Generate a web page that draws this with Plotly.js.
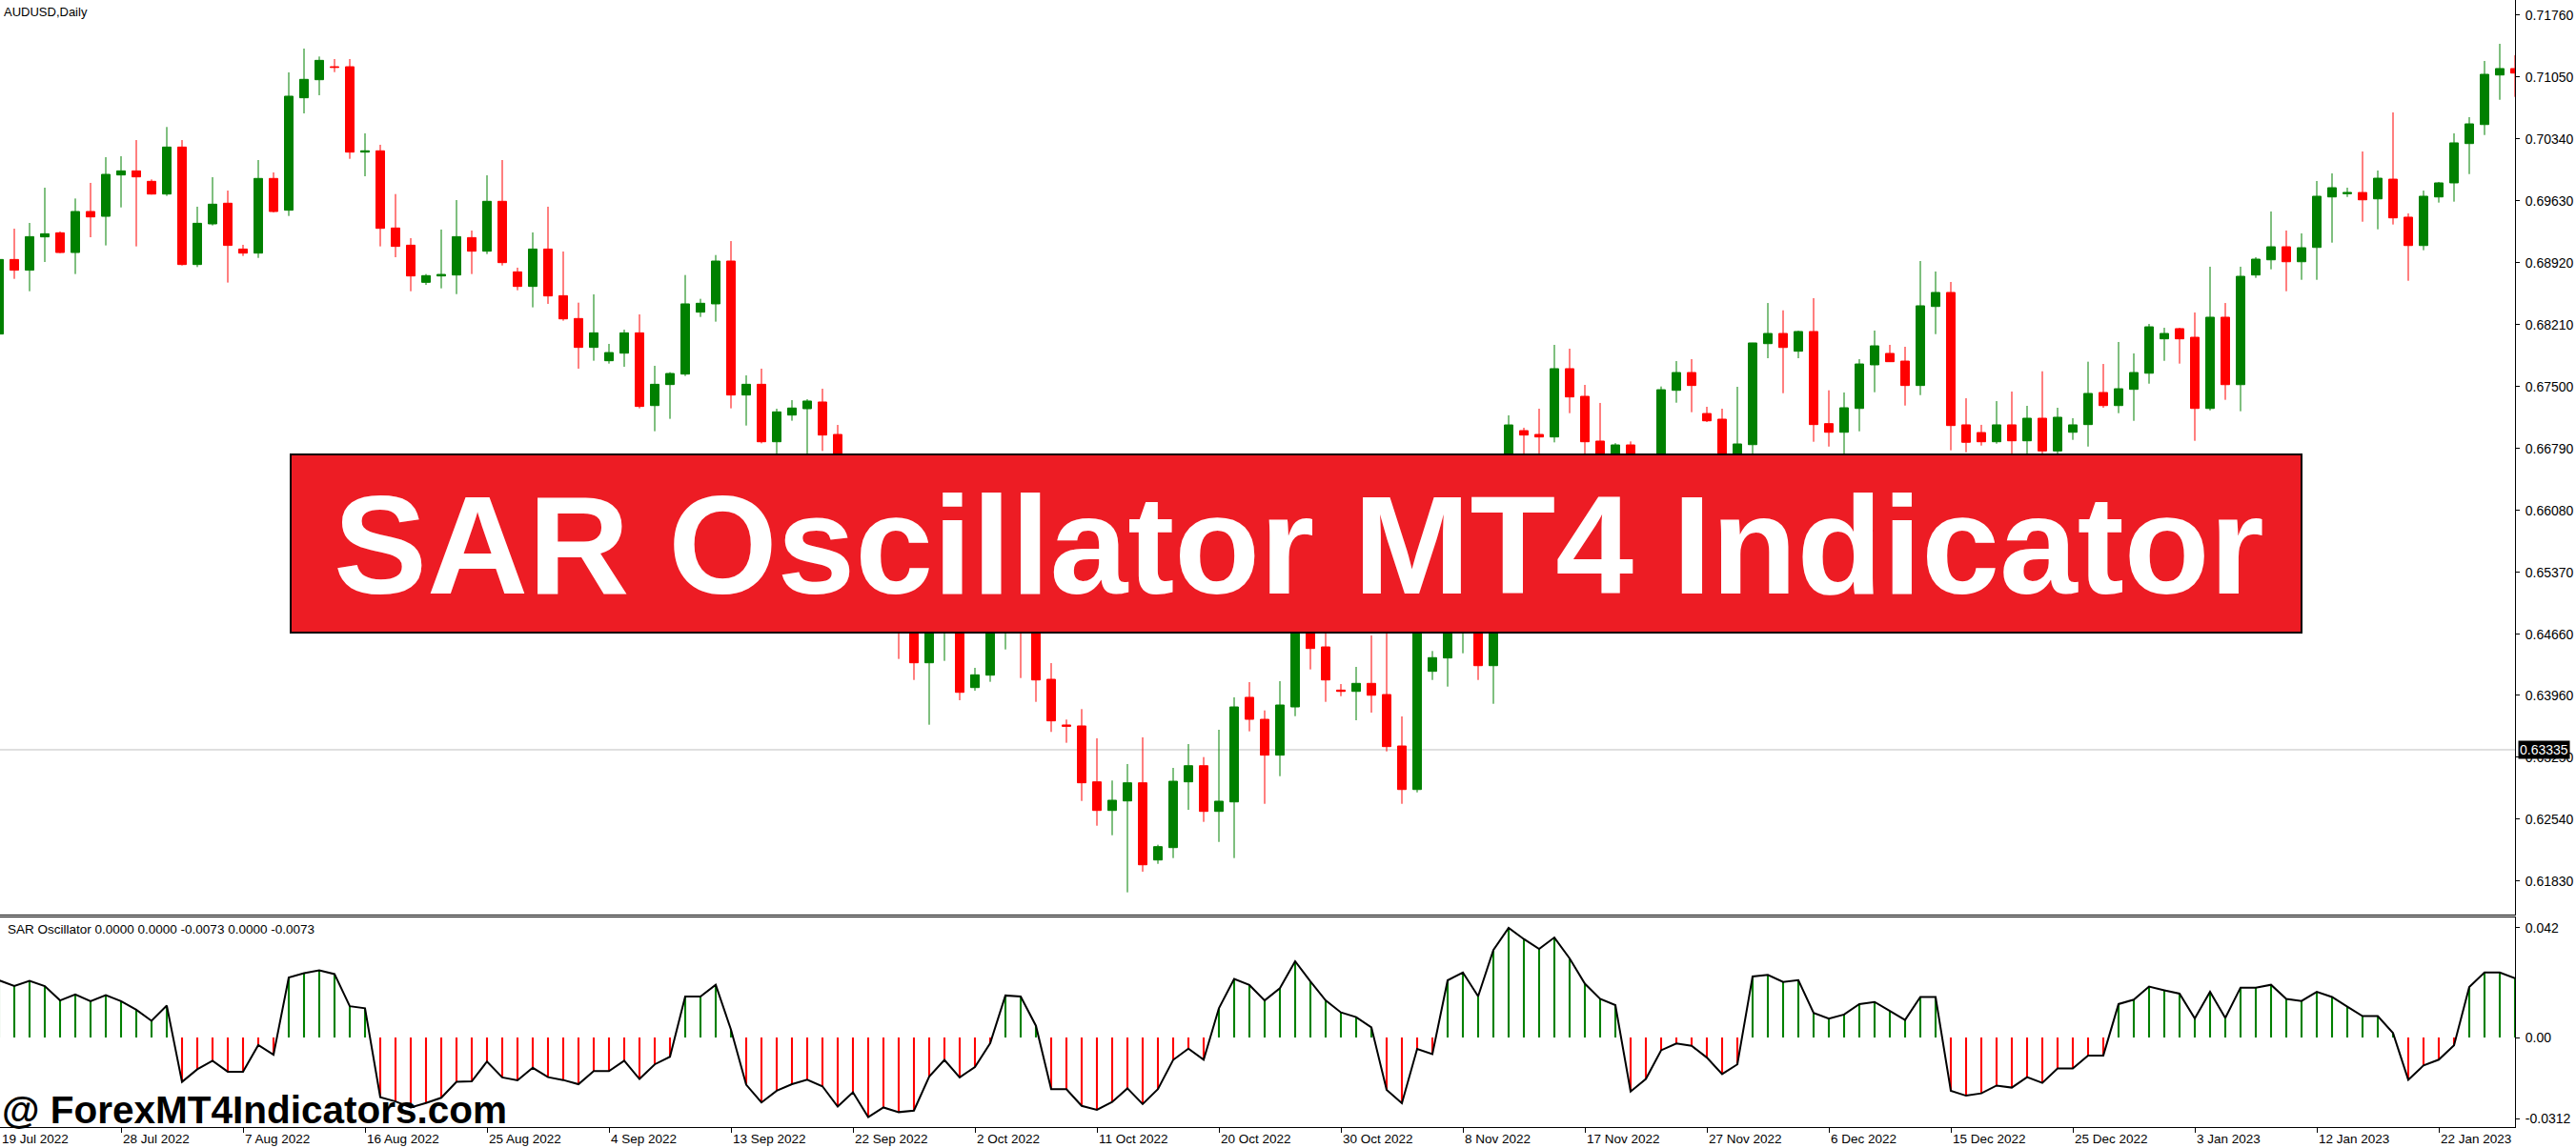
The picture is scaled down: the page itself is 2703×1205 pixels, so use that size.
<!DOCTYPE html>
<html><head><meta charset="utf-8">
<script src="https://cdn.plot.ly/plotly-3.0.1.min.js"></script>
<style>html,body{margin:0;padding:0;background:#fff;overflow:hidden}#chart{width:2703px;height:1205px}</style>
</head><body><div id="chart"></div>
<script>
const symbolTitle = 'AUDUSD,Daily';
const openP = [0.68101,0.68956,0.68833,0.69215,0.69262,0.69036,0.69506,0.69451,0.69925,0.69972,
0.69852,0.69706,0.70245,0.68898,0.69364,0.69601,0.69076,0.69029,0.69885,0.69521,
0.70810,0.71017,0.71166,0.71166,0.70187,0.70202,0.69317,0.69120,0.68694,0.68767,
0.68778,0.69207,0.69051,0.69623,0.68814,0.68647,0.69076,0.68541,0.68279,0.67948,
0.67795,0.67882,0.68115,0.67281,0.67522,0.67642,0.68352,0.68447,0.68938,0.67402,
0.67525,0.66866,0.67172,0.67245,0.67322,0.66950,0.66400,0.66100,0.66380,0.65850,
0.64900,0.64332,0.64850,0.64900,0.64048,0.64190,0.64700,0.64900,0.64750,0.64143,
0.63619,0.63608,0.62967,0.62639,0.62748,0.62956,0.62071,0.62213,0.62967,0.63152,
0.62628,0.62737,0.63936,0.63684,0.63273,0.63826,0.64800,0.64514,0.64019,0.64004,
0.64096,0.63968,0.63378,0.62879,0.64234,0.64387,0.64750,0.64900,0.64299,0.65600,
0.66994,0.66950,0.66921,0.67704,0.67387,0.66874,0.66450,0.66830,0.66500,0.66600,
0.67456,0.67660,0.67190,0.67125,0.66600,0.66833,0.67991,0.68108,0.67904,0.68130,
0.67074,0.66975,0.67248,0.67748,0.67879,0.67791,0.67511,0.68417,0.68578,0.67060,
0.66972,0.66866,0.67060,0.66877,0.67136,0.66761,0.66975,0.67063,0.67431,0.67281,
0.67467,0.67652,0.68046,0.68163,0.68064,0.67248,0.68294,0.67521,0.68778,0.68952,
0.69102,0.68930,0.69094,0.69673,0.69710,0.69724,0.69651,0.69877,0.69441,0.69116,
0.69673,0.69834,0.70285,0.70503,0.71071,0.71145];
const highP = [0.68970,0.69309,0.69375,0.69779,0.69277,0.69655,0.69834,0.70129,0.70140,0.70325,
0.69874,0.70475,0.70325,0.69561,0.69899,0.69746,0.69124,0.70096,0.69954,0.71101,
0.71374,0.71283,0.71254,0.71254,0.70402,0.70271,0.69706,0.69200,0.68789,0.69299,
0.69637,0.69288,0.69921,0.70096,0.68862,0.69266,0.69561,0.69047,0.68461,0.68556,
0.67988,0.68152,0.68326,0.67737,0.67664,0.68778,0.68505,0.69007,0.69167,0.67627,
0.67704,0.67245,0.67343,0.67354,0.67474,0.67059,0.66680,0.66550,0.66500,0.66000,
0.65200,0.65050,0.65150,0.65050,0.64274,0.64900,0.65000,0.65050,0.64900,0.64328,
0.63681,0.63801,0.63466,0.62982,0.63171,0.63477,0.62246,0.63127,0.63400,0.63251,
0.63564,0.63936,0.64110,0.63786,0.64121,0.64950,0.65000,0.64681,0.64088,0.64285,
0.64645,0.64681,0.63717,0.64850,0.64467,0.65000,0.65100,0.65050,0.65600,0.67169,
0.67027,0.67245,0.67977,0.67933,0.67518,0.67311,0.66850,0.66870,0.66700,0.67500,
0.67791,0.67813,0.67267,0.67245,0.67496,0.68000,0.68457,0.68373,0.68140,0.68512,
0.67456,0.67431,0.67813,0.68141,0.67977,0.67955,0.68938,0.68818,0.68698,0.67365,
0.67060,0.67332,0.67442,0.67278,0.67674,0.67256,0.67136,0.67784,0.67758,0.68010,
0.67879,0.68217,0.68173,0.68173,0.68348,0.68873,0.68457,0.68873,0.68982,0.69506,
0.69288,0.69255,0.69856,0.69943,0.69779,0.70194,0.69976,0.70642,0.69484,0.69746,
0.69845,0.70402,0.70588,0.71232,0.71429,0.71297];
const lowP = [0.68053,0.68734,0.68592,0.68927,0.69029,0.68789,0.69211,0.69117,0.69553,0.69106,
0.69700,0.69685,0.68887,0.68869,0.69346,0.68691,0.68996,0.68974,0.69495,0.69455,
0.70631,0.70839,0.71104,0.70110,0.69910,0.69106,0.68982,0.68592,0.68665,0.68625,
0.68559,0.68789,0.69018,0.68887,0.68603,0.68407,0.68447,0.68254,0.67704,0.67795,
0.67762,0.67726,0.67249,0.66987,0.67129,0.67620,0.68297,0.68243,0.67249,0.67052,
0.66848,0.66579,0.67107,0.66500,0.66761,0.66300,0.65980,0.65900,0.65700,0.64376,
0.64135,0.63622,0.64354,0.63903,0.64012,0.64114,0.64485,0.64157,0.63884,0.63539,
0.63415,0.62748,0.62464,0.62355,0.61700,0.61937,0.62027,0.62093,0.62646,0.62508,
0.62278,0.62093,0.63546,0.62715,0.63032,0.63720,0.64256,0.63884,0.63949,0.63673,
0.63761,0.63316,0.62715,0.62846,0.64135,0.64059,0.64441,0.64135,0.63862,0.65450,
0.66600,0.66650,0.66859,0.67194,0.66600,0.66250,0.66350,0.66400,0.66400,0.66500,
0.67314,0.67205,0.67092,0.66550,0.66500,0.66724,0.67824,0.67423,0.67824,0.66866,
0.66811,0.66650,0.66986,0.67434,0.67780,0.67281,0.67401,0.68100,0.66768,0.66746,
0.66822,0.66844,0.66700,0.66720,0.66650,0.66680,0.66888,0.66811,0.67256,0.67194,
0.67106,0.67532,0.67794,0.67762,0.66877,0.67226,0.67347,0.67216,0.68745,0.68843,
0.68592,0.68723,0.68723,0.69149,0.69673,0.69389,0.69302,0.69357,0.68712,0.69062,
0.69608,0.69619,0.69935,0.70383,0.70787,0.70820];
const closeP = [0.68956,0.68833,0.69218,0.69251,0.69036,0.69506,0.69444,0.69932,0.69972,0.69903,
0.69706,0.70245,0.68898,0.69371,0.69590,0.69117,0.69029,0.69885,0.69506,0.70828,
0.71021,0.71239,0.71159,0.70187,0.70202,0.69313,0.69106,0.68767,0.68771,0.68785,
0.69218,0.69051,0.69623,0.68920,0.68647,0.69076,0.68538,0.68275,0.67948,0.68115,
0.67889,0.68115,0.67271,0.67525,0.67649,0.68447,0.68454,0.68938,0.67402,0.67525,
0.66866,0.67209,0.67253,0.67333,0.66943,0.66400,0.66100,0.66380,0.65850,0.64900,
0.64332,0.64900,0.65000,0.63993,0.64194,0.64750,0.64850,0.64720,0.64135,0.63666,
0.63604,0.62956,0.62639,0.62756,0.62956,0.62016,0.62224,0.62974,0.63152,0.62628,
0.62745,0.63826,0.63684,0.63273,0.63848,0.64850,0.64496,0.64135,0.64004,0.64096,
0.63960,0.63371,0.62879,0.64750,0.64391,0.64850,0.64950,0.64299,0.65500,0.67059,
0.66943,0.66921,0.67704,0.67380,0.66866,0.66400,0.66830,0.66500,0.66650,0.67463,
0.67660,0.67511,0.67106,0.66650,0.66841,0.67999,0.68108,0.67947,0.68130,0.67063,
0.66975,0.67256,0.67758,0.67966,0.67784,0.67511,0.68425,0.68578,0.67052,0.66860,
0.66866,0.67060,0.66877,0.67136,0.66761,0.67147,0.67060,0.67420,0.67281,0.67474,
0.67660,0.68184,0.68108,0.68046,0.67248,0.68294,0.67521,0.68763,0.68960,0.69102,
0.68930,0.69091,0.69681,0.69779,0.69724,0.69640,0.69888,0.69433,0.69116,0.69681,
0.69834,0.70293,0.70511,0.71079,0.71145,0.71093];
const sarOsc = [0.0219,0.0197,0.0217,0.0197,0.0142,0.0165,0.0139,0.0162,0.0139,0.0106,
0.0064,0.0122,-0.0170,-0.0122,-0.0089,-0.0131,-0.0131,-0.0029,-0.0066,0.0230,
0.0246,0.0257,0.0243,0.0120,0.0112,-0.0229,-0.0245,-0.0268,-0.0251,-0.0231,
-0.0170,-0.0168,-0.0092,-0.0153,-0.0164,-0.0116,-0.0152,-0.0163,-0.0179,-0.0129,
-0.0129,-0.0089,-0.0159,-0.0103,-0.0074,0.0157,0.0157,0.0202,0.0030,-0.0181,
-0.0249,-0.0204,-0.0179,-0.0162,-0.0187,-0.0265,-0.0210,-0.0305,-0.0268,-0.0286,
-0.0280,-0.0150,-0.0086,-0.0153,-0.0113,-0.0022,0.0161,0.0157,0.0045,-0.0198,
-0.0198,-0.0262,-0.0277,-0.0247,-0.0195,-0.0255,-0.0198,-0.0086,-0.0043,-0.0085,
0.0112,0.0224,0.0201,0.0142,0.0189,0.0292,0.0215,0.0142,0.0096,0.0078,
0.0039,-0.0201,-0.0252,-0.0044,-0.0064,0.0219,0.0249,0.0158,0.0335,0.0420,
0.0377,0.0339,0.0383,0.0303,0.0206,0.0148,0.0124,-0.0207,-0.0159,-0.0049,
-0.0023,-0.0032,-0.0077,-0.0140,-0.0103,0.0234,0.0240,0.0213,0.0220,0.0094,
0.0072,0.0088,0.0128,0.0136,0.0102,0.0067,0.0155,0.0155,-0.0204,-0.0223,
-0.0214,-0.0184,-0.0192,-0.0152,-0.0174,-0.0119,-0.0119,-0.0069,-0.0069,0.0128,
0.0145,0.0195,0.0181,0.0168,0.0073,0.0175,0.0075,0.0191,0.0191,0.0202,
0.0148,0.0140,0.0175,0.0155,0.0118,0.0082,0.0082,0.0017,-0.0162,-0.0107,
-0.0085,-0.0030,0.0193,0.0249,0.0249,0.0227];
const dateLabels = ['19 Jul 2022','28 Jul 2022','7 Aug 2022','16 Aug 2022','25 Aug 2022','4 Sep 2022',
'13 Sep 2022','22 Sep 2022','2 Oct 2022','11 Oct 2022','20 Oct 2022','30 Oct 2022','8 Nov 2022',
'17 Nov 2022','27 Nov 2022','6 Dec 2022','15 Dec 2022','25 Dec 2022','3 Jan 2023','12 Jan 2023','22 Jan 2023'];
const barsPerDateLabel = 8;
const priceTickLabels = ['0.71760','0.71050','0.70340','0.69630','0.68920','0.68210','0.67500','0.66790',
'0.66080','0.65370','0.64660','0.63960','0.63250','0.62540','0.61830'];
const oscTickLabels = ['0.042','0.00','-0.0312'];
const markedPrice = 0.63335;
const indicatorLabel = 'SAR Oscillator 0.0000 0.0000 -0.0073 0.0000 -0.0073';
const bannerText = 'SAR Oscillator MT4 Indicator';
const watermarkText = '@ ForexMT4Indicators.com';

const FONT = 'Liberation Sans, Arial, sans-serif';
const idx = openP.map((_, i) => i);
const xRange = [0.0625, 165];
const plotW = 2639, plotH = 1183;
const py = y => (plotH - y) / plotH;   // pixel row -> paper
const px = x => x / plotW;             // pixel col -> paper

const traces = [
  {type:'candlestick', x: idx, open: openP, high: highP, low: lowP, close: closeP,
   xaxis:'x', yaxis:'y', whiskerwidth:0, hoverinfo:'skip',
   increasing:{line:{color:'#008000', width:1}, fillcolor:'#008000'},
   decreasing:{line:{color:'#FF0000', width:1}, fillcolor:'#FF0000'}},
  {type:'bar', x: idx, y: sarOsc, xaxis:'x2', yaxis:'y2', width:0.13, hoverinfo:'skip',
   marker:{color: sarOsc.map(v => v >= 0 ? '#008000' : '#FF0000'), line:{width:0}}},
  {type:'scatter', mode:'lines', x: idx, y: sarOsc, xaxis:'x2', yaxis:'y2', hoverinfo:'skip',
   line:{color:'#000', width:2}}
];

const annotations = [
  {xref:'paper', yref:'paper', x:px(2), y:1, xanchor:'left', yanchor:'top', yshift:-3, showarrow:false,
   text: symbolTitle, font:{family:FONT, size:13, color:'#000'}},
  {xref:'paper', yref:'paper', x:px(6), y:py(975.5), xanchor:'left', yanchor:'middle', showarrow:false,
   text: indicatorLabel, font:{family:FONT, size:13.5, color:'#000'}},
  {xref:'paper', yref:'y', x:1, y:markedPrice, xanchor:'left', yanchor:'middle', xshift:3, showarrow:false,
   text: markedPrice.toFixed(5), bgcolor:'#000', borderpad:1, font:{family:FONT, size:14, color:'#fff'}},
  {xref:'paper', yref:'paper', x:px(1363), y:py(572), xanchor:'center', yanchor:'middle', showarrow:false,
   text:'<b>' + bannerText + '</b>', font:{family:FONT, size:147, color:'#fff'}},
  {xref:'paper', yref:'paper', x:px(0), y:py(1165), xanchor:'left', yanchor:'middle', showarrow:false,
   text:'<b>' + watermarkText + '</b>', font:{family:FONT, size:40.5, color:'#000'}}
];
dateLabels.forEach((lab, k) => {
  annotations.push({xref:'x2', yref:'paper', x:Math.max(k * barsPerDateLabel, xRange[0] + 0.01), y:py(1195),
    xanchor:'left', yanchor:'middle', showarrow:false, text: lab, font:{family:FONT, size:13.5, color:'#000'}});
});

const axBase = {showgrid:false, zeroline:false, fixedrange:true};
const layout = {
  width:2703, height:1205, margin:{l:0, r:64, t:0, b:22, pad:0},
  paper_bgcolor:'#fff', plot_bgcolor:'#fff', showlegend:false,
  boxgap:0.2, boxgroupgap:0.3,
  xaxis: Object.assign({}, axBase, {domain:[0,1], anchor:'y', range:xRange, showline:true,
    linecolor:'#000', linewidth:1, ticks:'', showticklabels:false, rangeslider:{visible:false}}),
  yaxis: Object.assign({}, axBase, {domain:[py(960),1], anchor:'x', side:'right', range:[0.61445,0.71931],
    showline:true, linecolor:'#000', linewidth:1, ticks:'outside', ticklen:4, tickcolor:'#000',
    tickvals: priceTickLabels.map(Number), ticktext: priceTickLabels, ticklabelstandoff:3,
    tickfont:{family:FONT, size:14, color:'#000'}}),
  xaxis2: Object.assign({}, axBase, {domain:[0,1], anchor:'y2', range:xRange, showline:true, mirror:true,
    linecolor:'#000', linewidth:1, ticks:'outside', ticklen:5, tickcolor:'#000',
    tickvals: dateLabels.map((_, k) => k * barsPerDateLabel), showticklabels:false, rangeslider:{visible:false}}),
  yaxis2: Object.assign({}, axBase, {domain:[0,py(963)], anchor:'x2', side:'right', range:[-0.03431,0.04599],
    showline:true, linecolor:'#000', linewidth:1, ticks:'outside', ticklen:4, tickcolor:'#000',
    tickvals: oscTickLabels.map(Number), ticktext: oscTickLabels, ticklabelstandoff:3,
    tickfont:{family:FONT, size:14, color:'#000'}}),
  shapes: [
    {type:'line', xref:'paper', yref:'y', x0:0, x1:1, y0:markedPrice, y1:markedPrice,
     line:{color:'#C0C0C0', width:1}, layer:'below'},
    {type:'rect', xref:'paper', yref:'paper', x0:px(305), x1:px(2415), y0:py(664), y1:py(477),
     fillcolor:'#ED1C24', line:{color:'#000', width:2}, layer:'above'}
  ],
  annotations: annotations
};
Plotly.newPlot('chart', traces, layout, {staticPlot:true, displayModeBar:false});
</script></body></html>
